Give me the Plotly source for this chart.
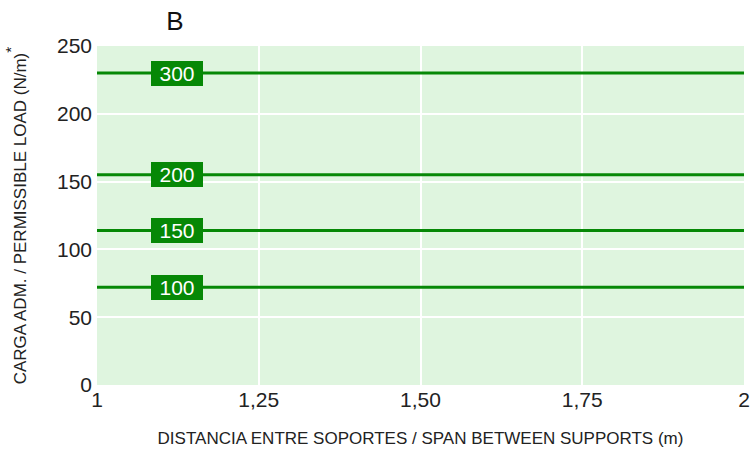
import plotly.graph_objects as go

# Data
series_names = ["300", "200", "150", "100"]
series_loads = [230, 155, 114, 72]
span_range = [1, 2]
x_tick_vals = [1, 1.25, 1.5, 1.75, 2]
x_tick_text = ["1", "1,25", "1,50", "1,75", "2"]
y_tick_vals = [0, 50, 100, 150, 200, 250]
label_x = 1.124

GREEN = "#068806"
FONT = "Liberation Sans, Arial, sans-serif"

fig = go.Figure()
for name, load in zip(series_names, series_loads):
    fig.add_trace(go.Scatter(
        x=span_range, y=[load, load], mode="lines", name=name,
        line=dict(color=GREEN, width=3), showlegend=False, hoverinfo="skip",
    ))
    fig.add_annotation(
        x=label_x, y=load, text=name, showarrow=False,
        font=dict(family=FONT, size=21, color="white"),
        bgcolor=GREEN, bordercolor=GREEN, borderwidth=0, borderpad=2,
        width=48, height=21,
    )

fig.update_layout(
    width=756, height=454,
    margin=dict(l=97, r=6, t=46, b=69),
    paper_bgcolor="white", plot_bgcolor="#dff5df",
    font=dict(family=FONT, size=21, color="#222"),
    title=dict(text="B", x=175 / 756, xanchor="center", y=1 - 21 / 454, yanchor="middle",
               font=dict(family=FONT, size=26, color="#111")),
    xaxis=dict(
        range=span_range, tickvals=x_tick_vals, ticktext=x_tick_text,
        showgrid=True, gridcolor="white", gridwidth=2, zeroline=False,
        showline=False, ticks="", ticklabelstandoff=0, ticklabeloverflow="allow",
        title=dict(text="DISTANCIA ENTRE SOPORTES / SPAN BETWEEN SUPPORTS (m)",
                   font=dict(family=FONT, size=17, color="#222"), standoff=22),
    ),
    yaxis=dict(
        range=[0, 250], tickvals=y_tick_vals,
        showgrid=True, gridcolor="white", gridwidth=2, zeroline=False,
        showline=False, ticks="", ticklabelstandoff=4,
        title=dict(text="CARGA ADM. / PERMISSIBLE LOAD (N/m)<span style='font-size:22px'><sup>*</sup></span>",
                   font=dict(family=FONT, size=17, color="#222"), standoff=26),
    ),
)

fig.write_html("out.html", config={"displayModeBar": False},
               post_script="document.body.style.margin='0';")
